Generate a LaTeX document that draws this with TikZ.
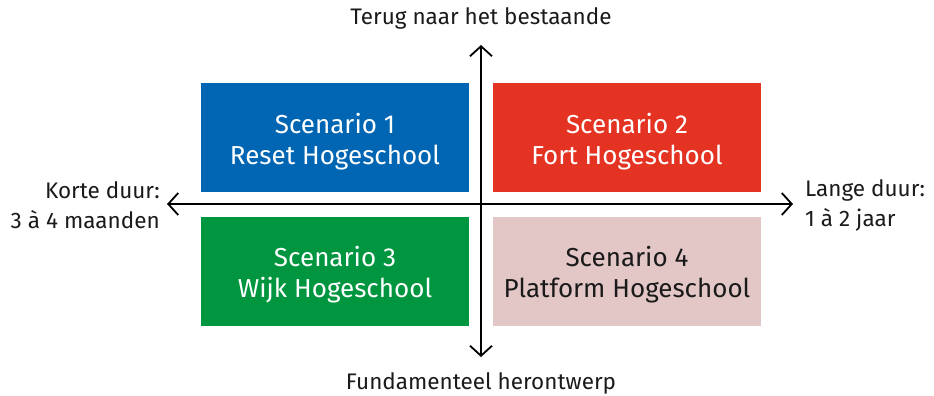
\documentclass[tikz,border=0pt]{standalone}
\usepackage{fontspec}
\setmainfont{Fira Sans}
\usetikzlibrary{arrows.meta}
\definecolor{sblue}{HTML}{0066B3}
\definecolor{sred}{HTML}{E53323}
\definecolor{sgreen}{HTML}{00963F}
\definecolor{spink}{HTML}{E3C6C6}
\definecolor{stext}{HTML}{1A1A1A}
\begin{document}
\begin{tikzpicture}[x=1pt,y=-1pt,
  quad/.style={minimum width=268pt,minimum height=109pt,inner sep=0pt},
  qtext/.style={align=center,inner sep=0pt,font=\fontsize{26}{31}\selectfont},
  axlabel/.style={font=\fontsize{22.5}{30}\selectfont,text=stext,inner sep=0pt},
  axis/.style={line width=1.8pt,-{Straight Barb[length=10pt,width=22pt,line width=1.8pt]},black}]
\useasboundingbox (0,0) rectangle (934,396);
\node[quad,fill=sblue] (s1) at (335,137.5) {};
\node[quad,fill=sred] (s2) at (627,137.5) {};
\node[quad,fill=sgreen] (s3) at (335,271) {};
\node[quad,fill=spink] (s4) at (627,271) {};
\node[qtext,text=white] (t1) at (335,142) {Scenario 1\\Reset Hogeschool};
\node[qtext,text=white] (t2) at (627,142) {Scenario 2\\Fort Hogeschool};
\node[qtext,text=white] (t3) at (335,275) {Scenario 3\\Wijk Hogeschool};
\node[qtext,text=stext] (t4) at (627,275) {Scenario 4\\Platform Hogeschool};
\coordinate (c) at (481,204);
\coordinate (top) at (481,45);
\coordinate (bot) at (481,357);
\coordinate (lft) at (167,204);
\coordinate (rgt) at (793,204);
\draw[axis] (c) -- (top);
\draw[axis] (c) -- (bot);
\draw[axis] (c) -- (lft);
\draw[axis] (c) -- (rgt);
\node[axlabel] (tl) at (481,18) {Terug naar het bestaande};
\node[axlabel] (bl) at (481,383) {Fundamenteel herontwerp};
\node[axlabel,anchor=east,align=right] (ll) at (160,205) {Korte duur:\\3 à 4 maanden};
\node[axlabel,anchor=west,align=left] (rl) at (805,205) {Lange duur:\\1 à 2 jaar};
\end{tikzpicture}
\end{document}
